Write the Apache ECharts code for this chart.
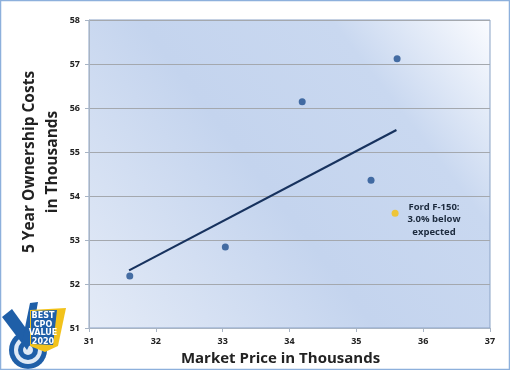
<!DOCTYPE html>
<html><head><meta charset="utf-8">
<script src="https://cdn.jsdelivr.net/npm/echarts@6/dist/echarts.min.js"></script>
<style>html,body{margin:0;padding:0;background:#fff}#c{width:510px;height:370px}</style>
</head><body><div id="c"></div>
<script>
const xTicks = [31, 32, 33, 34, 35, 36, 37];
const yTicks = [51, 52, 53, 54, 55, 56, 57, 58];
const vehicleX = [31.61, 33.04, 34.19, 35.22, 35.61];
const vehicleY = [52.18, 52.84, 56.14, 54.36, 57.12];
const fordX = [35.58];
const fordY = [53.61];
const trendX = [31.6, 35.6];
const trendY = [52.31, 55.5];
const fordLabel = 'Ford F-150:\n3.0% below\nexpected';
const xTitle = 'Market Price in Thousands';
const yTitle = '5 Year Ownership Costs\nin Thousands';

const chart = echarts.init(document.getElementById('c'), null, {renderer: 'canvas'});
const font = 'Open Sans';
chart.setOption({
  animation: false,
  backgroundColor: '#fff',
  grid: {left: 89, right: 20, top: 20, bottom: 42, containLabel: false, outerBoundsMode: 'none',
    show: true, borderColor: '#8aa3c6', borderWidth: 1,
    backgroundColor: {type: 'linear', x: 0, y: 1, x2: 1, y2: 0, colorStops: [
      {offset: 0, color: '#e4ebf7'}, {offset: 0.45, color: '#c4d4ee'}, {offset: 0.75, color: '#c9d8f0'}, {offset: 1, color: '#fbfcff'}]}},
  xAxis: {type: 'value', min: xTicks[0], max: xTicks[xTicks.length-1], interval: 1,
    name: xTitle, nameLocation: 'middle', nameGap: 22,
    nameTextStyle: {fontFamily: font, fontWeight: 'bold', fontSize: 15, color: '#222', padding: [0, 18, 0, 0]},
    axisLine: {show: true, lineStyle: {color: '#a8b4c4'}}, axisTick: {show: true, length: 4, lineStyle: {color: '#a8b4c4'}},
    splitLine: {show: false},
    axisLabel: {fontFamily: font, fontWeight: 'bold', fontSize: 9, color: '#222', margin: 9}},
  yAxis: {type: 'value', min: yTicks[0], max: yTicks[yTicks.length-1], interval: 1,
    axisLine: {show: true, lineStyle: {color: '#a8b4c4'}}, axisTick: {show: true, length: 4, lineStyle: {color: '#a8b4c4'}},
    splitLine: {show: true, lineStyle: {color: '#a4a8ae', width: 1}},
    axisLabel: {fontFamily: font, fontWeight: 'bold', fontSize: 9, color: '#222', margin: 9}},
  series: [
    {type: 'line', data: trendX.map((x, i) => [x, trendY[i]]), symbol: 'none',
      lineStyle: {color: '#17325e', width: 2.2}, z: 2},
    {type: 'scatter', data: vehicleX.map((x, i) => [x, vehicleY[i]]), symbolSize: 7,
      itemStyle: {color: '#1f4f8f'}, z: 3},
    {type: 'scatter', data: fordX.map((x, i) => [x, fordY[i]]), symbolSize: 7,
      itemStyle: {color: '#f7c10a'}, z: 3}
  ],
  graphic: [
    {type: 'rect', shape: {x: 0.5, y: 0.5, width: 509, height: 369}, style: {fill: 'none', stroke: '#8db0dc', lineWidth: 1.5}, z: 100},
    {type: 'text', x: 41, y: 162, rotation: Math.PI / 2, style: {text: yTitle, fontFamily: font, fontWeight: 'bold', fontSize: 15.5, lineHeight: 23, fill: '#222', align: 'center', verticalAlign: 'middle'}},
    {type: 'text', x: 434, y: 201, style: {text: fordLabel, fontFamily: font, fontWeight: 'bold', fontSize: 9.5, lineHeight: 12.5, fill: '#1d2b3e', align: 'center'}},
    {type: 'group', x: 0, y: 0, z: 50, children: [
      {type: 'circle', shape: {cx: 28, cy: 350, r: 19}, style: {fill: '#1f5fa8'}},
      {type: 'circle', shape: {cx: 28, cy: 350, r: 14}, style: {fill: '#dfe9f5'}},
      {type: 'circle', shape: {cx: 28, cy: 350, r: 10}, style: {fill: '#1f5fa8'}},
      {type: 'circle', shape: {cx: 28, cy: 350, r: 5}, style: {fill: '#dfe9f5'}},
      {type: 'polygon', shape: {points: [[2, 317], [12, 309], [33, 338], [27, 350]]}, style: {fill: '#1f5fa8'}},
      {type: 'polygon', shape: {points: [[22, 342], [30, 303], [38, 302], [30, 346]]}, style: {fill: '#1f5fa8'}},
      {type: 'polygon', shape: {points: [[30, 310], [66, 308], [58, 346], [45, 352], [30, 346]]}, style: {fill: '#f2c21b'}},
      {type: 'polygon', shape: {points: [[31, 311], [57, 310], [53, 345], [31, 344]]}, style: {fill: '#1f5fa8'}},
      {type: 'text', x: 43, y: 312, style: {text: 'BEST\nCPO\nVALUE\n2020', fontFamily: 'DejaVu Sans', fontWeight: 'bold', fontSize: 8, lineHeight: 8.5, fill: '#fff', align: 'center'}}
    ]}
  ]
});
</script></body></html>
